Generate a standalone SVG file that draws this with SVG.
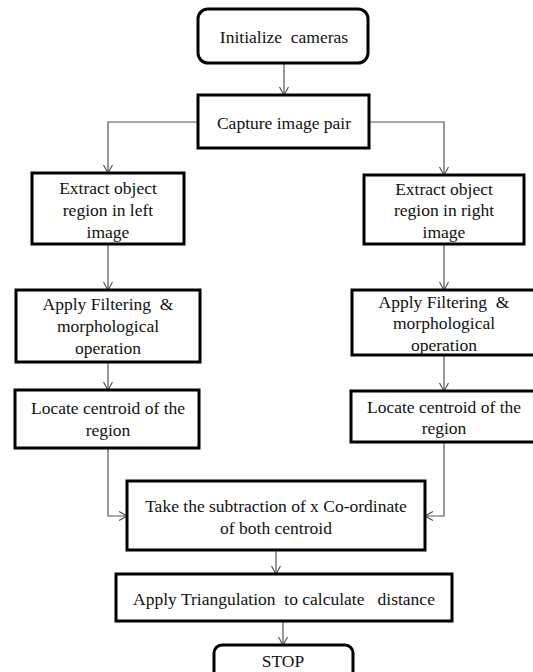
<svg xmlns="http://www.w3.org/2000/svg" width="533" height="672" viewBox="0 0 533 672">
<style>
.box{fill:#fff;stroke:#000;stroke-width:3}
.t{font-family:"Liberation Serif","Times New Roman",serif;font-size:17.5px;fill:#111;text-anchor:middle}
.c{fill:none;stroke:#555;stroke-width:1.2}
</style>
<defs>
<marker id="ah" markerUnits="userSpaceOnUse" markerWidth="12" markerHeight="12" refX="9" refY="5" orient="auto">
<path d="M1,0.5 L9,5 L1,9.5" fill="none" stroke="#555" stroke-width="1.2"/>
</marker>
</defs>
<rect width="533" height="672" fill="#fff"/>
<g id="connectors">
<line class="c" x1="284" y1="63" x2="284" y2="95" marker-end="url(#ah)"/>
<polyline class="c" points="198,122 108,122 108,173" marker-end="url(#ah)"/>
<polyline class="c" points="369,122 444,122 444,175" marker-end="url(#ah)"/>
<line class="c" x1="108" y1="244" x2="108" y2="290" marker-end="url(#ah)"/>
<line class="c" x1="444" y1="244" x2="444" y2="290" marker-end="url(#ah)"/>
<line class="c" x1="108" y1="362" x2="108" y2="390" marker-end="url(#ah)"/>
<line class="c" x1="444" y1="355" x2="444" y2="391" marker-end="url(#ah)"/>
<polyline class="c" points="108,448 108,516 127,516" marker-end="url(#ah)"/>
<polyline class="c" points="444,442 444,516 425,516" marker-end="url(#ah)"/>
<line class="c" x1="276" y1="550" x2="276" y2="574" marker-end="url(#ah)"/>
<line class="c" x1="283" y1="621" x2="283" y2="645" marker-end="url(#ah)"/>
</g>
<g id="init">
<rect class="box" x="198" y="9" width="170" height="54" rx="10"/>
<text class="t" x="284" y="43" xml:space="preserve">Initialize  cameras</text>
</g>
<g id="capture">
<rect class="box" x="198" y="95" width="171" height="53"/>
<text class="t" x="284" y="129">Capture image pair</text>
</g>
<g id="extract-left">
<rect class="box" x="32" y="173" width="152" height="71"/>
<text class="t" x="108" y="194">Extract object</text>
<text class="t" x="108" y="216">region in left</text>
<text class="t" x="108" y="238">image</text>
</g>
<g id="extract-right">
<rect class="box" x="364" y="175" width="160" height="69"/>
<text class="t" x="444" y="195">Extract object</text>
<text class="t" x="444" y="216">region in right</text>
<text class="t" x="444" y="238">image</text>
</g>
<g id="filter-left">
<rect class="box" x="16" y="290" width="184" height="72"/>
<text class="t" x="108" y="310" xml:space="preserve">Apply Filtering  &amp;</text>
<text class="t" x="108" y="332">morphological</text>
<text class="t" x="108" y="354">operation</text>
</g>
<g id="filter-right">
<rect class="box" x="352" y="290" width="190" height="65"/>
<text class="t" x="444" y="308" xml:space="preserve">Apply Filtering  &amp;</text>
<text class="t" x="444" y="329">morphological</text>
<text class="t" x="444" y="351">operation</text>
</g>
<g id="locate-left">
<rect class="box" x="15" y="390" width="184" height="58"/>
<text class="t" x="108" y="414">Locate centroid of the</text>
<text class="t" x="108" y="436">region</text>
</g>
<g id="locate-right">
<rect class="box" x="351" y="391" width="190" height="51"/>
<text class="t" x="444" y="413">Locate centroid of the</text>
<text class="t" x="444" y="434">region</text>
</g>
<g id="subtract">
<rect class="box" x="127" y="481" width="298" height="69"/>
<text class="t" x="276" y="512">Take the subtraction of x Co-ordinate</text>
<text class="t" x="276" y="534">of both centroid</text>
</g>
<g id="triangulate">
<rect class="box" x="116" y="574" width="336" height="47"/>
<text class="t" x="284" y="605" xml:space="preserve">Apply Triangulation  to calculate   distance</text>
</g>
<g id="stop">
<rect class="box" x="214" y="645" width="139" height="50" rx="8"/>
<text class="t" x="283" y="667">STOP</text>
</g>
</svg>
